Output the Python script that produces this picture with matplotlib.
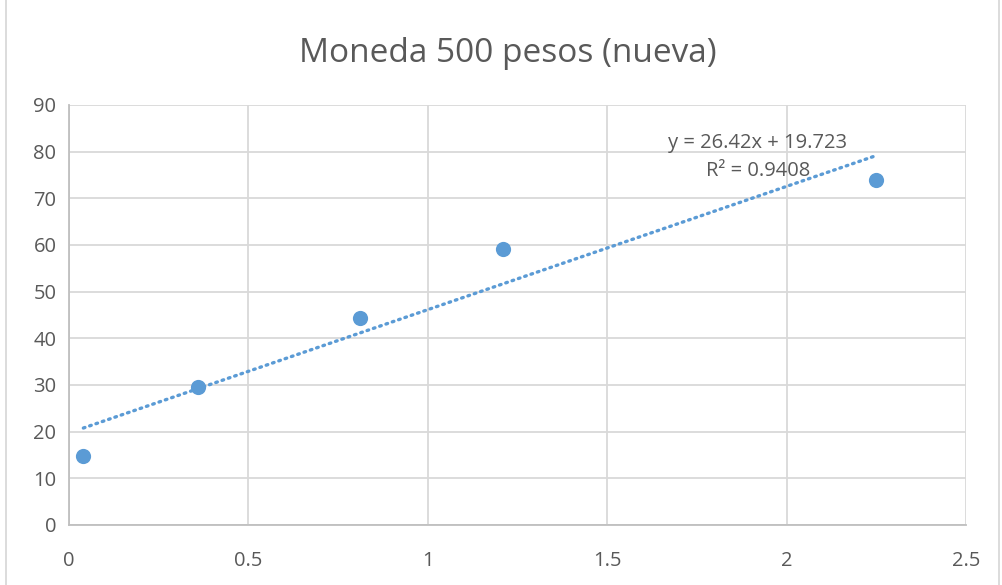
import numpy as np
import matplotlib.pyplot as plt
from matplotlib.lines import Line2D

# Datos
x = [0.04, 0.36, 0.81, 1.21, 2.25]
y = [14.8, 29.6, 44.4, 59.2, 74.0]
titulo = "Moneda 500 pesos (nueva)"

plt.rcParams['font.family'] = ['Open Sans', 'DejaVu Sans']

fig = plt.figure(figsize=(10.03, 5.85), dpi=100)
ax = fig.add_axes([69 / 1003, 1 - 525 / 585, (966 - 69) / 1003, (525 - 105) / 585])

# Línea de tendencia (ajuste lineal)
m, b = np.polyfit(x, y, 1)
r2 = np.corrcoef(x, y)[0, 1] ** 2
xt = np.array([min(x), max(x)])
ax.plot(xt, m * xt + b, color='#5b9bd5', lw=2.4, linestyle=(0, (0.5, 1.5)),
        dash_capstyle='round', zorder=2)

ax.scatter(x, y, s=120, color='#5b9bd5', zorder=3, linewidths=0)

ax.set_xlim(0, 2.5)
ax.set_ylim(0, 90)
ax.set_xticks([0, 0.5, 1, 1.5, 2, 2.5])
ax.set_xticklabels(['0', '0.5', '1', '1.5', '2', '2.5'])
ax.set_yticks(range(0, 91, 10))
ax.grid(True, color='#d9d9d9', lw=1.3)
ax.set_axisbelow(True)
for s in ['top', 'right']:
    ax.spines[s].set_visible(False)
for s in ['left', 'bottom']:
    ax.spines[s].set_color('#bfbfbf')
    ax.spines[s].set_linewidth(1.3)
ax.tick_params(length=0, labelsize=14.5, colors='#595959')
ax.tick_params(axis='x', pad=19)
ax.tick_params(axis='y', pad=9)

ax.text(758 / 1003, 1 - 143 / 585, f"y = {m:.2f}x + {b:.3f}", transform=fig.transFigure,
        ha='center', va='center', fontsize=14.5, color='#595959')
ax.text(758 / 1003, 1 - 171 / 585, f"R² = {r2:.4f}", transform=fig.transFigure,
        ha='center', va='center', fontsize=14.5, color='#595959')

fig.text(508 / 1003, 1 - 53 / 585, titulo, ha='center', va='center',
         fontsize=24, color='#595959')

# Borde del área del gráfico
fig.add_artist(Line2D([6 / 1003, 6 / 1003], [0, 1], color='#d9d9d9', lw=1.3,
                      transform=fig.transFigure))
fig.add_artist(Line2D([999 / 1003, 999 / 1003], [0, 1], color='#d9d9d9', lw=1.3,
                      transform=fig.transFigure))

fig.savefig('out.png', dpi=100)
